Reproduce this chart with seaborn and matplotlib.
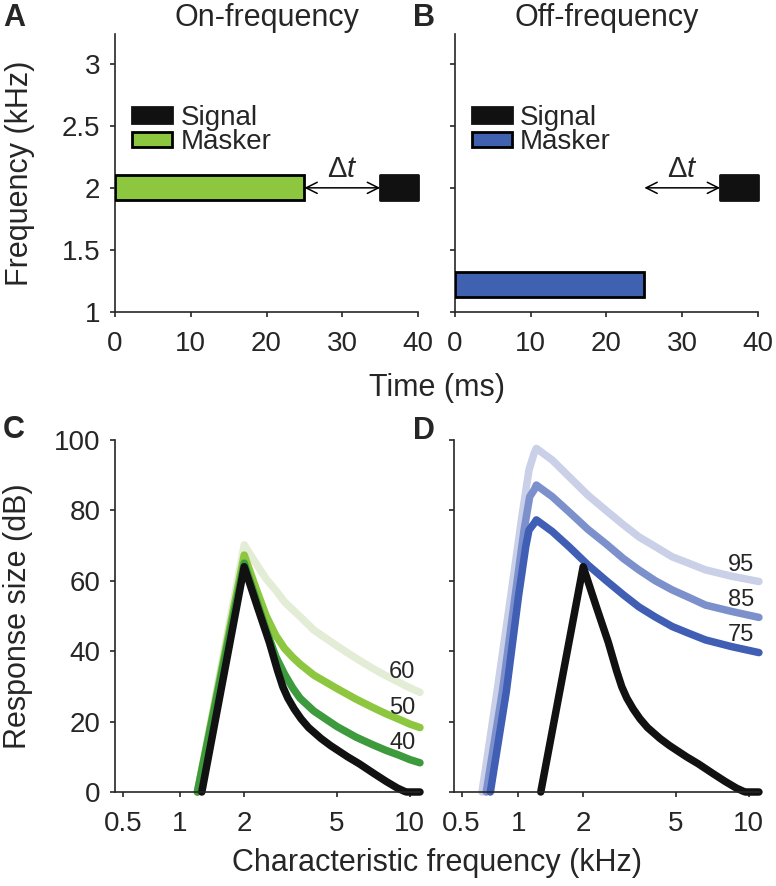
import numpy as np
import pandas as pd
import matplotlib
matplotlib.use('Agg')
import matplotlib.pyplot as plt
from matplotlib.patches import Patch
import seaborn as sns

# --- stimulus schematic (panels A, B) ---
time_ticks = [0, 10, 20, 30, 40]
freq_ticks = [1, 1.5, 2, 2.5, 3]
freq_tick_labels = ['1', '1.5', '2', '2.5', '3']
masker_start = 0
masker_dur = 25
signal_start = 35
signal_dur = 5
band_khz = 0.2
signal_freq = 2.0
masker_freq_on = 2.0
masker_freq_off = 1.22

# --- excitation patterns (panels C, D), CF in kHz, response in dB ---
cf_ticks = [0.5, 1, 2, 5, 10]
cf_tick_labels = ['0.5', '1', '2', '5', '10']
db_ticks = [0, 20, 40, 60, 80, 100]

signal_cf = [1.28, 2.0, 2.29, 2.58, 2.8, 2.95, 3.1, 3.3, 3.53, 3.8, 4.29, 4.7,
             5.54, 6.2, 7.14, 8.0, 8.9, 9.5, 9.7, 11.0]
signal_db = [0, 64, 52.5, 42.5, 34.5, 29.9, 26.7, 23.6, 20.8, 18.3, 15.2, 13.2,
             10, 8, 5.2, 3, 1.1, 0.2, 0, 0]

on_cf = [1.22, 2.0, 2.25, 2.5, 2.75, 3.0, 3.25, 3.5, 4, 5, 6, 7, 8, 9, 10, 11]
on_60 = [0, 70.2, 65, 60.5, 57.3, 54, 51.8, 49.8, 46, 41.5, 38, 35.2, 33, 31.2, 29.6, 28.3]
on_50 = [0, 67.3, 58, 50, 44.5, 40.8, 38.3, 36.3, 33.2, 29.4, 26.4, 24.1, 22.2, 20.7, 19.3, 18.3]
on_40 = [0, 65, 55, 46, 38.5, 33.5, 29.6, 26.6, 23, 18.6, 15.6, 13.5, 11.8, 10.5, 9.2, 8.3]

off_95_cf = [0.65, 0.78, 0.915, 1.044, 1.125, 1.19, 1.22, 1.448, 1.727, 2.1, 2.51,
             3.0, 3.49, 4.1, 4.83, 5.7, 6.64, 8.5, 11]
off_95 = [0, 28.5, 55.5, 79, 91.5, 96.2, 97.6, 94.3, 89.6, 84.3, 80.1,
          75.9, 72.5, 69.7, 66.8, 64.9, 63.1, 61.3, 59.8]
off_85_cf = [0.685, 0.831, 0.962, 1.065, 1.134, 1.19, 1.22, 1.448, 1.727, 2.1, 2.51,
             3.0, 3.49, 4.1, 4.83, 5.7, 6.64, 8.5, 11]
off_85 = [0, 28.5, 55.5, 74.4, 83.9, 85.8, 87.2, 83.9, 79.6, 74.6, 70.6,
          66.3, 63.1, 60, 57.4, 55.2, 53.1, 51.3, 49.6]
off_75_cf = [0.72, 0.87, 1.0, 1.085, 1.125, 1.19, 1.22, 1.448, 1.727, 2.1, 2.51,
             3.0, 3.49, 4.1, 4.83, 5.7, 6.64, 8.5, 11]
off_75 = [0, 28.5, 55.5, 69.7, 74.4, 76.3, 77.3, 74, 69.7, 64.5, 60.2,
          56, 52.6, 49.7, 47, 45, 43.2, 41.3, 39.6]

on_levels = ['60', '50', '40']
off_levels = ['95', '85', '75']
on_label_db = [34, 24, 14]
off_label_db = [64.5, 54.5, 44.6]

green_pal = {'60': '#e3edd6', '50': '#8dc63f', '40': '#3d9a3d', 'signal': '#111111'}
blue_pal = {'95': '#c9d0e7', '85': '#7c90cc', '75': '#3f5eb4', 'signal': '#111111'}
masker_green = '#8dc63f'
masker_blue = '#4060b0'


def erb_fwd(f):
    f = np.asarray(f, dtype=float)
    return 21.4 * np.log10(4.37 * np.clip(f, 1e-6, None) + 1)


def erb_inv(e):
    e = np.asarray(e, dtype=float)
    return (10 ** (e / 21.4) - 1) / 4.37


def long_df(curves):
    parts = []
    for name, cf, db in curves:
        parts.append(pd.DataFrame({'cf': cf, 'db': db, 'curve': name}))
    return pd.concat(parts, ignore_index=True)


def style_axis(ax):
    sns.despine(ax=ax)
    for sp in ('left', 'bottom'):
        ax.spines[sp].set_linewidth(1.2)
    ax.tick_params(direction='out', length=3.5, width=1.2, labelsize=20)
    ax.tick_params(axis='x', pad=10)
    ax.tick_params(axis='y', pad=7)


def stim_panel(ax, masker_freq, masker_color, title, ylabels):
    ax.barh(masker_freq, masker_dur, left=masker_start, height=band_khz,
            color=masker_color, edgecolor='black', linewidth=2, zorder=3)
    ax.barh(signal_freq, signal_dur, left=signal_start, height=band_khz,
            color='#111111', edgecolor='#111111', linewidth=2,
            joinstyle='round', zorder=3, clip_on=False)
    ax.annotate('', xy=(masker_start + masker_dur, signal_freq),
                xytext=(signal_start, signal_freq),
                arrowprops=dict(arrowstyle='<->', lw=1.1, color='black',
                                shrinkA=0, shrinkB=0, mutation_scale=20))
    ax.text((masker_start + masker_dur + signal_start) / 2, signal_freq + 0.04,
            r'$\Delta t$', ha='center', va='bottom', fontsize=21)
    ax.set_xlim(0, 40)
    ax.set_ylim(1, 3.24)
    ax.set_xticks(time_ticks)
    ax.set_yticks(freq_ticks)
    ax.set_yticklabels(freq_tick_labels if ylabels else [])
    ax.set_title(title, fontsize=22, pad=6)
    handles = [Patch(facecolor='#111111', edgecolor='#111111', linewidth=2),
               Patch(facecolor=masker_color, edgecolor='black', linewidth=2)]
    ax.legend(handles, ['Signal', 'Masker'], loc='upper left',
              bbox_to_anchor=(0.055, 0.745), frameon=False, fontsize=20,
              handlelength=1.45, handleheight=0.5, handletextpad=0.3,
              labelspacing=-0.05, borderpad=0, borderaxespad=0)
    style_axis(ax)


def pattern_panel(ax, df, order, pal, levels, label_db, ylabels):
    sns.lineplot(data=df, x='cf', y='db', hue='curve', hue_order=order,
                 palette=pal, linewidth=5.4, legend=False, ax=ax,
                 sort=False, clip_on=False,
                 solid_capstyle='round', solid_joinstyle='round')
    ax.set_xscale('function', functions=(erb_fwd, erb_inv))
    ax.set_xlim(0.45, 11.0)
    ax.set_ylim(0, 100)
    ax.set_xticks(cf_ticks)
    ax.set_xticklabels(cf_tick_labels)
    ax.xaxis.set_minor_locator(matplotlib.ticker.NullLocator())
    ax.set_yticks(db_ticks)
    if not ylabels:
        ax.set_yticklabels([])
    for lev, yv in zip(levels, label_db):
        ax.text(9.3, yv, lev, ha='center', va='center', fontsize=17, zorder=5)
    ax.set_xlabel('')
    ax.set_ylabel('')
    style_axis(ax)


def main():
    sns.set_theme(style='ticks')
    plt.rcParams['font.family'] = ['Liberation Sans', 'DejaVu Sans']
    plt.rcParams['mathtext.fontset'] = 'custom'
    plt.rcParams['mathtext.rm'] = 'Liberation Sans'
    plt.rcParams['mathtext.it'] = 'Liberation Sans:italic'

    fig = plt.figure(figsize=(7.76, 8.86), dpi=100)
    ax_a = fig.add_axes([0.1482, 0.6479, 0.3905, 0.3138])
    ax_b = fig.add_axes([0.5863, 0.6479, 0.3905, 0.3138])
    ax_c = fig.add_axes([0.1482, 0.1061, 0.3930, 0.3973])
    ax_d = fig.add_axes([0.5850, 0.1061, 0.3930, 0.3973])

    stim_panel(ax_a, masker_freq_on, masker_green, 'On-frequency', True)
    stim_panel(ax_b, masker_freq_off, masker_blue, 'Off-frequency', False)
    ax_a.set_ylabel('Frequency (kHz)', fontsize=22, labelpad=19)

    df_on = long_df([('60', on_cf, on_60), ('50', on_cf, on_50),
                     ('40', on_cf, on_40), ('signal', signal_cf, signal_db)])
    df_off = long_df([('95', off_95_cf, off_95), ('85', off_85_cf, off_85),
                      ('75', off_75_cf, off_75), ('signal', signal_cf, signal_db)])
    pattern_panel(ax_c, df_on, on_levels + ['signal'], green_pal,
                  on_levels, on_label_db, True)
    pattern_panel(ax_d, df_off, off_levels + ['signal'], blue_pal,
                  off_levels, off_label_db, False)
    ax_c.set_ylabel('Response size (dB)', fontsize=22, labelpad=15)

    fig.text(437 / 776, 1 - 388 / 886, 'Time (ms)', ha='center', va='center', fontsize=22)
    fig.text(437 / 776, 1 - 863 / 886, 'Characteristic frequency (kHz)',
             ha='center', va='center', fontsize=22)
    for letter, x, y in [('A', 3, 26), ('B', 413, 26), ('C', 3, 438), ('D', 413, 439)]:
        fig.text(x / 776, 1 - y / 886, letter, fontsize=22, fontweight='bold',
                 ha='left', va='baseline')

    fig.savefig('out.png', dpi=100)


if __name__ == '__main__':
    main()
